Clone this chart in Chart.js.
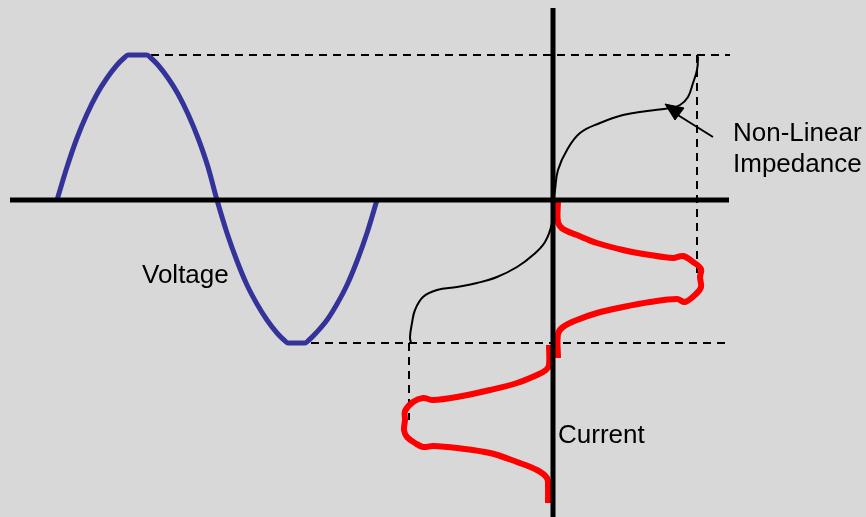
<!DOCTYPE html>
<html>
<head>
<meta charset="utf-8">
<script src="https://cdn.jsdelivr.net/npm/chart.js@4.4.1/dist/chart.umd.min.js"></script>
<style>
  html, body { margin: 0; padding: 0; background: #d8d8d8; overflow: hidden; }
  #wrap { width: 866px; height: 517px; }
</style>
</head>
<body>
<div id="wrap"><canvas id="c" width="866" height="517"></canvas></div>
<script>
// ---- Data (units: origin at the V-I axes crossing; y up) ----
const voltageX = [-496,-486,-476,-466,-456,-446,-436,-429,-425,
                  -406,-402,-395,-385,-375,-365,-355,-345,-336,
                  -326,-316,-306,-296,-286,-276,-269,-265,
                  -248,-244,-237,-226,-216,-206,-196,-186,-176];
const voltageY = [0,33,62,86,106,122,135,142,145,
                  145,142,135,122,106,86,62,33,0,
                  -33,-61,-85,-104,-120,-133,-140,-143,
                  -143,-140,-133,-120,-104,-85,-61,-33,0];

const impedanceX = [-142,-143,-141,-138,-130,-116,-96,-76,-56,-36,-20,-8,-1,0,
                    2,5,14,27,47,70,94,117,127,135,140,144,145,144];
const impedanceY = [-143,-137,-123,-110,-97,-90,-87,-83,-77,-67,-55,-42,-23,-5,
                    10,30,50,67,77,85,89,92,95,103,117,130,142,145];

const currentX = [5,5,10,24,44,70,97,120,130,140,148,147,148,143,132,124,97,70,44,24,10,5,5,
                  null,
                  -4,-4,-7,-16,-36,-63,-96,-120,-130,-140,-148,-148,-149,-146,-138,-130,-120,-96,-63,-36,-16,-6,-5,-5];
const currentY = [0,-22,-29,-35,-43,-50,-55,-58,-56,-62,-69,-77,-87,-94,-102,-99,-102,-107,-113,-120,-127,-134,-158,
                  null,
                  -145,-165,-170,-175,-183,-190,-197,-200,-198,-202,-211,-220,-230,-237,-243,-247,-246,-248,-253,-262,-270,-278,-287,-303];

const axisHX = [-543, 176], axisHY = [0, 0];
const axisVX = [0, 0],      axisVY = [192, -317];

const guideTopX = [-416, 177],   guideTopY = [145, 145];
const guideBotX = [-256, 174],   guideBotY = [-143, -143];
const guideRightX = [144, 144],  guideRightY = [145, -75];
const guideLeftX = [-144, -144], guideLeftY = [-143, -220];

const arrowLineX = [160, 120], arrowLineY = [63, 88];
const arrowHeadX = [112, 122, 131, 112], arrowHeadY = [96, 80, 92, 96];

const labelText = ["Voltage", "Current", "Non-Linear", "Impedance"];
const labelX = [-411, 5, 180, 180];
const labelY = [-83, -243, 59, 28];

// ---- helpers ----
function pts(xs, ys) {
  return xs.map((x, i) => (x === null ? {x: null, y: null} : {x: x, y: ys[i]}));
}
function seg(xs, ys, color, width, dash, order, extra) {
  return Object.assign({
    data: pts(xs, ys), showLine: true, borderColor: color, backgroundColor: color,
    borderWidth: width, borderDash: dash || [], pointRadius: 0, pointHoverRadius: 0,
    tension: 0, order: order, borderCapStyle: 'butt', spanGaps: false
  }, extra || {});
}

const bgPlugin = {
  id: 'bg',
  beforeDraw(chart) {
    const ctx = chart.ctx;
    ctx.save();
    ctx.fillStyle = '#d8d8d8';
    ctx.fillRect(0, 0, chart.width, chart.height);
    ctx.restore();
  }
};
const labelPlugin = {
  id: 'labels',
  afterDatasetsDraw(chart) {
    const ctx = chart.ctx, sx = chart.scales.x, sy = chart.scales.y;
    ctx.save();
    ctx.fillStyle = '#000';
    ctx.font = '26px "Liberation Sans", Arial, sans-serif';
    ctx.textBaseline = 'alphabetic';
    ctx.textAlign = 'left';
    labelText.forEach((t, i) => {
      ctx.fillText(t, sx.getPixelForValue(labelX[i]), sy.getPixelForValue(labelY[i]));
    });
    ctx.restore();
  }
};

new Chart(document.getElementById('c'), {
  type: 'scatter',
  data: {
    datasets: [
      seg(axisHX, axisHY, '#000', 5, null, 0),
      seg(axisVX, axisVY, '#000', 5, null, 0),
      seg(currentX, currentY, '#ff0000', 6, null, 1, {tension: 0.35, borderJoinStyle: 'round', borderCapStyle: 'butt'}),
      seg(voltageX, voltageY, '#333399', 5, null, 2, {tension: 0.4, cubicInterpolationMode: 'monotone', borderJoinStyle: 'round'}),
      seg(impedanceX, impedanceY, '#000', 2, null, 3, {tension: 0.4}),
      seg(guideTopX, guideTopY, '#000', 2, [8, 6], 4),
      seg(guideBotX, guideBotY, '#000', 2, [8, 6], 4),
      seg(guideRightX, guideRightY, '#000', 2, [8, 6], 4),
      seg(guideLeftX, guideLeftY, '#000', 2, [8, 6], 4),
      seg(arrowLineX, arrowLineY, '#000', 2, null, 3),
      seg(arrowHeadX, arrowHeadY, '#000', 1, null, 3, {fill: 'shape'})
    ]
  },
  options: {
    responsive: false,
    animation: false,
    events: [],
    layout: { padding: 0 },
    plugins: { legend: { display: false }, tooltip: { enabled: false }, title: { display: false } },
    scales: {
      x: { type: 'linear', min: -553, max: 313, display: false },
      y: { type: 'linear', min: -317, max: 200, display: false }
    }
  },
  plugins: [bgPlugin, labelPlugin]
});
</script>
</body>
</html>
